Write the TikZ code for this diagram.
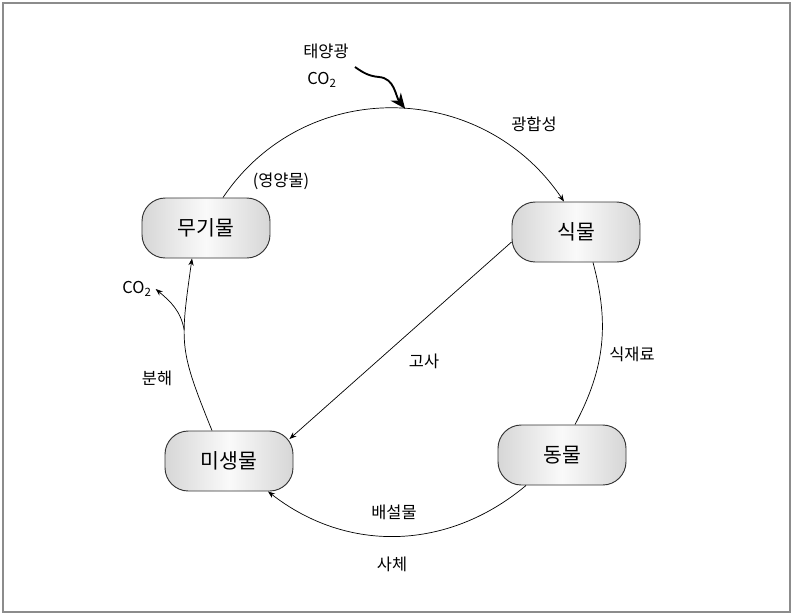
\documentclass[tikz,border=0pt]{standalone}
\usepackage{fontspec}
\setmainfont{Noto Sans CJK KR}
\usetikzlibrary{arrows.meta,calc}

\begin{document}
\begin{tikzpicture}[x=0.03cm, y=0.03cm,
    etat/.style={draw=black!80, line width=0.8pt, rounded corners=0.7cm,
        minimum width=3.84cm, minimum height=1.8cm,
        left color=black!16, right color=black!16, middle color=black!2,
        font=\fontsize{17.5}{19}\selectfont},
    lbl/.style={font=\fontsize{14}{16}\selectfont},
    fleche/.style={line width=0.6pt, -{Stealth[length=6pt,width=4.5pt]}},
    trait/.style={line width=0.6pt}]
        \useasboundingbox (0,0) rectangle (793,-614);
        \draw[black!45, line width=1.2pt] (3,-3) rectangle (790,-612);

        % Les quatre boîtes
        \node[etat] (muki) at (206,-228) {무기물};
        \node[etat] (sikmul) at (576,-232) {식물};
        \node[etat] (dongmul) at (562,-455) {동물};
        \node[etat] (misaeng) at (229,-461) {미생물};

        % Le cycle
        \draw[fleche] ($(muki.north)+(17,0)$) to[out=56, in=124, looseness=1.1]
            coordinate[pos=0.53] (soleil) ($(sikmul.north)+(-12,0)$);
        \draw[trait] ($(sikmul.south)+(17,0)$) to[out=-75, in=62] ($(dongmul.north)+(13,0)$);
        \draw[fleche] ($(dongmul.south)+(-36,0)$) to[out=220, in=-38] ($(misaeng.south)+(39,0)$);
        \draw[fleche] ($(misaeng.north)+(-17,0)$) to[out=112, in=-98, looseness=1.3]
            coordinate[pos=0.62] (fourche) ($(muki.south)+(-14,0)$);
        \draw[fleche] ($(sikmul.west)+(0,-10)$) -- ($(misaeng.east)+(-4,22)$);

        % Entrée du soleil
        \coordinate (depart) at (355,-67);
        \draw[line width=1.6pt, -{Stealth[length=13pt,width=11pt]}] (depart)
            to[out=-35, in=175] (379,-77) to[out=-5, in=128] (soleil);
        \node[lbl] (taeyang) at (326,-51) {태양광};
        \node[lbl] (co2haut) at (322,-80) {CO\textsubscript{2}};

        % Sortie de CO2
        \node[lbl] (co2gauche) at (137,-289) {CO\textsubscript{2}};
        \draw[fleche] (fourche) to[out=100, in=-40] (co2gauche.east);

        % Étiquettes
        \node[lbl] (gwang) at (534,-124) {광합성};
        \node[lbl] (yeong) at (281,-181) {(영양물)};
        \node[lbl] (bunhae) at (157,-378) {분해};
        \node[lbl] (gosa) at (424,-361) {고사};
        \node[lbl] (sikjae) at (632,-354) {식재료};
        \node[lbl] (baeseol) at (394,-512) {배설물};
        \node[lbl] (sache) at (392,-564) {사체};
\end{tikzpicture}
\end{document}
